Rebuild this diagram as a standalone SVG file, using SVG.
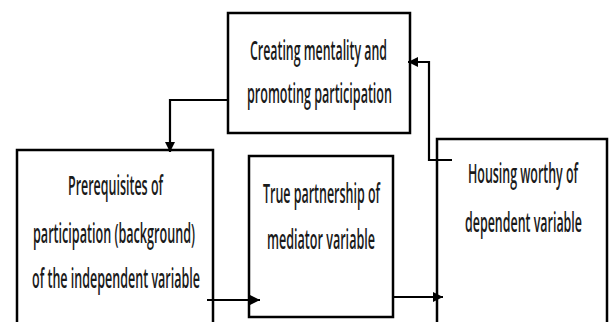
<svg xmlns="http://www.w3.org/2000/svg" width="609" height="322" viewBox="0 0 609 322">
<style>
.box{fill:#ffffff;stroke:#000000;stroke-width:2.5}
.lbl{font-family:"Open Sans","Liberation Sans",sans-serif;font-size:27px;font-weight:600;fill:#1a1a1a}
.con{fill:none;stroke:#000000;stroke-width:2.2}
</style>
<defs>
<marker id="ah" markerUnits="userSpaceOnUse" markerWidth="10" markerHeight="10" refX="10" refY="5" orient="auto">
<path d="M0,0 L10,5 L0,10 z" fill="#000000"/>
</marker>
</defs>
<rect width="609" height="322" fill="#ffffff"/>
<g id="node-creating">
<rect class="box" x="228" y="13" width="182" height="120"/>
<text class="lbl" transform="translate(250,60) scale(0.5,1)" textLength="274" lengthAdjust="spacingAndGlyphs">Creating mentality and</text>
<text class="lbl" transform="translate(247,103) scale(0.5,1)" textLength="290" lengthAdjust="spacingAndGlyphs">promoting participation</text>
</g>
<g id="node-prerequisites">
<rect class="box" x="17" y="150" width="196" height="200"/>
<text class="lbl" transform="translate(68,195) scale(0.5,1)" textLength="190" lengthAdjust="spacingAndGlyphs">Prerequisites of</text>
<text class="lbl" transform="translate(33,243) scale(0.5,1)" textLength="324" lengthAdjust="spacingAndGlyphs">participation (background)</text>
<text class="lbl" transform="translate(32,288) scale(0.5,1)" textLength="336" lengthAdjust="spacingAndGlyphs">of the independent variable</text>
</g>
<g id="node-partnership">
<rect class="box" x="249" y="156" width="144" height="161"/>
<text class="lbl" transform="translate(263,203) scale(0.5,1)" textLength="234" lengthAdjust="spacingAndGlyphs">True partnership of</text>
<text class="lbl" transform="translate(267,249) scale(0.5,1)" textLength="216" lengthAdjust="spacingAndGlyphs">mediator variable</text>
</g>
<g id="node-housing">
<rect class="box" x="437" y="139" width="170" height="220"/>
<text class="lbl" transform="translate(468,183) scale(0.5,1)" textLength="220" lengthAdjust="spacingAndGlyphs">Housing worthy of</text>
<text class="lbl" transform="translate(465,232) scale(0.5,1)" textLength="234" lengthAdjust="spacingAndGlyphs">dependent variable</text>
</g>
<g id="connectors">
<path class="con" d="M228,100 L170,100 L170,152" marker-end="url(#ah)"/>
<path class="con" d="M452,160 L429,160 L429,62 L408,62" marker-end="url(#ah)"/>
<path class="con" d="M207,300 L260,300" marker-end="url(#ah)"/>
<path class="con" d="M392,297 L443,297" marker-end="url(#ah)"/>
</g>
</svg>
